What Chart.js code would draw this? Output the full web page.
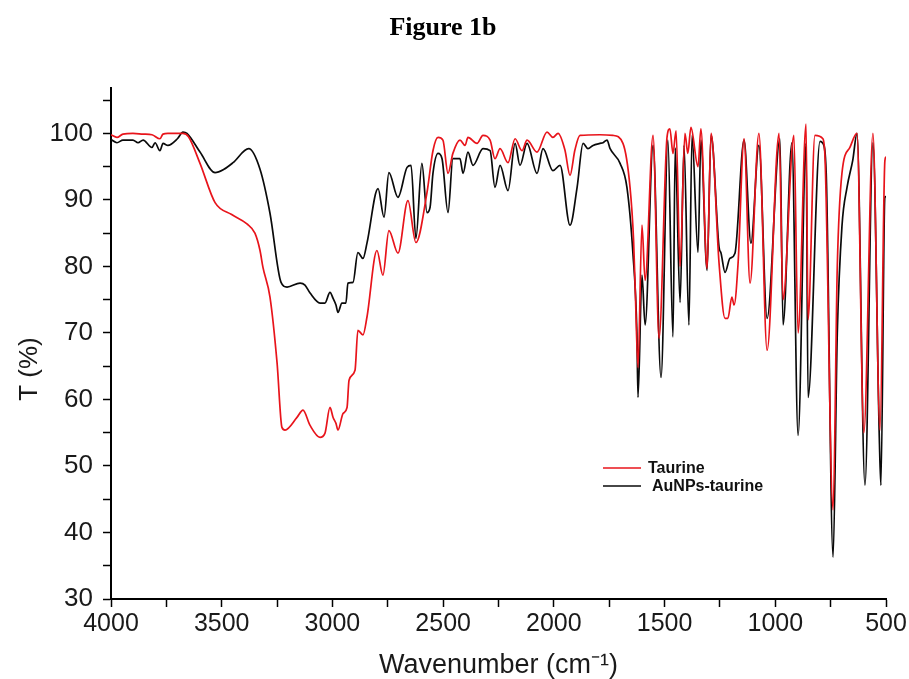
<!DOCTYPE html>
<html>
<head>
<meta charset="utf-8">
<script src="https://cdn.jsdelivr.net/npm/chart.js@4.4.1/dist/chart.umd.min.js"></script>
<style>
  html, body { margin: 0; padding: 0; background: #ffffff; }
  #wrap { width: 909px; height: 679px; position: relative; }
</style>
</head>
<body>
<div id="wrap"><canvas id="c"></canvas></div>
<script>
// ---- Data (wavenumber in cm-1, transmittance in %) ----
const seriesNames = ['Taurine', 'AuNPs-taurine'];
const yAxisTitle = 'T (%)';

const taurineWn = [4000, 3973, 3946, 3901, 3855, 3815, 3779, 3765, 3743, 3675, 3650, 3598, 3530, 3455, 3386, 3350, 3327, 3314, 3282, 3250, 3228, 3214, 3160, 3133, 3101, 3056, 3034, 3011, 2997, 2984, 2975, 2952, 2934, 2925, 2898, 2885, 2862, 2844, 2799, 2772, 2745, 2704, 2659, 2623, 2573, 2546, 2523, 2501, 2478, 2456, 2424, 2401, 2388, 2347, 2320, 2288, 2266, 2243, 2207, 2175, 2144, 2121, 2076, 2031, 2004, 1981, 1950, 1927, 1905, 1882, 1792, 1733, 1688, 1656, 1640, 1632, 1620, 1602, 1588, 1552, 1525, 1489, 1476, 1462, 1448, 1430, 1408, 1395, 1381, 1349, 1336, 1308, 1290, 1254, 1227, 1214, 1196, 1186, 1168, 1141, 1114, 1074, 1037, 983, 965, 916, 897, 861, 852, 821, 785, 775, 739, 720, 699, 663, 631, 600, 559, 527, 505, 500];
const taurineT = [99.8, 99.4, 99.9, 100.0, 99.9, 99.8, 99.2, 99.9, 100.0, 100.0, 99.5, 95.5, 89.6, 87.8, 86.4, 85.0, 82.4, 79.9, 75.4, 65.5, 55.8, 55.4, 57.3, 58.4, 56.1, 54.3, 54.9, 58.8, 57.3, 56.4, 55.4, 57.9, 58.8, 62.9, 64.4, 70.4, 69.7, 72.4, 82.4, 78.7, 85.4, 82.0, 89.9, 83.6, 91.1, 97.4, 99.4, 99.0, 94.0, 97.0, 99.0, 98.2, 99.4, 98.5, 99.7, 99.0, 96.2, 97.7, 95.6, 99.2, 97.4, 99.0, 97.2, 100.2, 99.4, 100.0, 97.5, 93.7, 97.5, 99.7, 99.8, 99.7, 98.5, 91.9, 84.0, 76.0, 64.8, 86.2, 77.9, 99.7, 69.2, 99.4, 100.7, 97.0, 100.4, 80.0, 100.0, 97.0, 100.9, 95.0, 100.7, 79.7, 100.0, 80.5, 72.2, 72.2, 75.4, 74.2, 80.5, 99.2, 77.5, 100.0, 67.4, 100.0, 75.0, 99.7, 70.0, 101.4, 72.0, 99.7, 99.2, 96.0, 43.4, 80.0, 94.0, 97.9, 100.0, 55.0, 100.0, 55.4, 95.9, 96.5];

const aunpsWn = [4000, 3973, 3946, 3901, 3878, 3855, 3815, 3801, 3779, 3765, 3743, 3700, 3675, 3657, 3598, 3530, 3490, 3449, 3378, 3327, 3282, 3232, 3205, 3146, 3124, 3101, 3056, 3034, 3011, 2997, 2984, 2975, 2957, 2939, 2930, 2907, 2885, 2862, 2844, 2794, 2767, 2745, 2704, 2663, 2645, 2623, 2596, 2573, 2559, 2546, 2523, 2505, 2478, 2456, 2424, 2410, 2388, 2365, 2320, 2288, 2266, 2243, 2207, 2175, 2153, 2121, 2076, 2049, 2004, 1972, 1927, 1895, 1868, 1846, 1823, 1792, 1778, 1760, 1746, 1701, 1670, 1643, 1625, 1620, 1602, 1588, 1552, 1516, 1485, 1462, 1452, 1430, 1412, 1390, 1376, 1349, 1336, 1308, 1290, 1254, 1245, 1227, 1205, 1182, 1141, 1110, 1074, 1037, 979, 965, 925, 897, 861, 852, 798, 785, 770, 739, 720, 699, 676, 650, 631, 595, 559, 530, 523, 505, 500];
const aunpsT = [99.1, 98.6, 99.0, 99.0, 98.6, 99.0, 97.9, 98.6, 97.4, 98.5, 98.2, 99.2, 100.2, 100.0, 97.2, 94.1, 94.6, 95.6, 97.7, 94.6, 88.0, 77.6, 76.9, 77.5, 77.2, 76.0, 74.5, 74.5, 76.1, 75.2, 74.2, 73.1, 74.5, 74.5, 77.5, 77.6, 82.1, 81.2, 83.5, 91.7, 87.4, 94.1, 90.4, 94.9, 95.2, 84.2, 95.5, 88.1, 88.9, 94.0, 97.0, 96.2, 88.1, 96.2, 96.2, 94.0, 97.2, 95.2, 97.7, 97.4, 91.9, 95.2, 91.4, 98.5, 95.2, 98.5, 94.0, 97.7, 94.4, 95.2, 86.2, 91.9, 98.5, 97.7, 98.2, 98.5, 98.6, 99.0, 97.7, 95.5, 91.9, 82.0, 70.0, 60.3, 78.7, 71.2, 98.2, 63.3, 99.0, 69.4, 97.8, 74.6, 98.2, 71.2, 99.7, 82.1, 99.0, 79.4, 99.8, 82.9, 82.0, 79.1, 81.2, 82.0, 99.0, 83.5, 98.2, 72.2, 99.2, 71.2, 98.6, 54.6, 98.5, 60.3, 98.8, 98.5, 94.0, 36.3, 70.0, 86.0, 91.9, 96.0, 100.0, 47.1, 98.6, 54.0, 47.1, 90.4, 90.5];

const xTickValues = [4000, 3750, 3500, 3250, 3000, 2750, 2500, 2250, 2000, 1750, 1500, 1250, 1000, 750, 500];
const yTickValues = [30, 35, 40, 45, 50, 55, 60, 65, 70, 75, 80, 85, 90, 95, 100, 105];

// ---- Build datasets ----
const toPoints = (xs, ys) => xs.map((x, i) => ({ x: x, y: ys[i] }));

const legendPlugin = {
  id: 'insideLegend',
  afterDatasetsDraw(chart) {
    const ctx = chart.ctx;
    const rows = [
      { y: 468, textX: 648 },
      { y: 486, textX: 652 }
    ];
    ctx.save();
    ctx.font = 'bold 16px "Liberation Sans", Arial, sans-serif';
    ctx.textBaseline = 'middle';
    ctx.textAlign = 'left';
    chart.data.datasets.forEach((ds, i) => {
      const r = rows[i];
      ctx.strokeStyle = ds.borderColor;
      ctx.lineWidth = 1.6;
      ctx.beginPath();
      ctx.moveTo(603, r.y);
      ctx.lineTo(641, r.y);
      ctx.stroke();
      ctx.fillStyle = '#111';
      ctx.fillText(ds.label, r.textX, r.y + 1);
    });
    ctx.restore();
  }
};

const yTitlePlugin = {
  id: 'yTitle',
  afterDraw(chart) {
    const ctx = chart.ctx;
    ctx.save();
    ctx.translate(30, 369);
    ctx.rotate(-Math.PI / 2);
    ctx.font = '26px "Liberation Sans", Arial, sans-serif';
    ctx.fillStyle = '#1a1a1a';
    ctx.textAlign = 'center';
    ctx.textBaseline = 'middle';
    ctx.fillText(yAxisTitle, 0, 0);
    ctx.restore();
  }
};

new Chart(document.getElementById('c'), {
  type: 'line',
  data: {
    datasets: [
      {
        label: seriesNames[0],
        data: toPoints(taurineWn, taurineT),
        borderColor: '#e8141b',
        borderWidth: 1.7,
        pointRadius: 0,
        cubicInterpolationMode: 'monotone',
        fill: false
      },
      {
        label: seriesNames[1],
        data: toPoints(aunpsWn, aunpsT),
        borderColor: '#0a0a0a',
        borderWidth: 1.7,
        pointRadius: 0,
        cubicInterpolationMode: 'monotone',
        fill: false
      }
    ]
  },
  options: {
    responsive: true,
    maintainAspectRatio: false,
    animation: false,
    layout: { padding: { left: 0, right: 23, top: 0, bottom: 0 } },
    plugins: {
      legend: { display: false },
      tooltip: { enabled: false },
      title: {
        display: true,
        text: 'Figure 1b',
        color: '#000',
        font: { family: '"Liberation Serif", "Times New Roman", serif', size: 26, weight: 'bold' },
        padding: { top: 13, bottom: 44 }
      }
    },
    scales: {
      x: {
        type: 'linear',
        reverse: true,
        min: 500,
        max: 4000,
        afterBuildTicks: (s) => { s.ticks = xTickValues.map(v => ({ value: v })); },
        afterFit: (s) => { s.height = 80; },
        ticks: {
          autoSkip: false,
          maxRotation: 0,
          padding: 2,
          color: '#1a1a1a',
          font: { family: '"Liberation Sans", Arial, sans-serif', size: 25 },
          callback: (v) => (v % 500 === 0 ? String(v) : '')
        },
        grid: { drawOnChartArea: false, drawTicks: true, tickLength: 8, tickColor: '#000', tickWidth: 1.5 },
        border: { display: true, color: '#000', width: 2 },
        title: {
          display: true,
          text: 'Wavenumber (cm\u207B\u00B9)',
          color: '#1a1a1a',
          font: { family: '"Liberation Sans", Arial, sans-serif', size: 27, lineHeight: 1.0 },
          padding: { top: 11, bottom: 0 }
        }
      },
      y: {
        type: 'linear',
        min: 30,
        max: 106.8,
        afterBuildTicks: (s) => { s.ticks = yTickValues.map(v => ({ value: v })); },
        afterFit: (s) => { s.width = 111; },
        ticks: {
          autoSkip: false,
          padding: 10,
          color: '#1a1a1a',
          font: { family: '"Liberation Sans", Arial, sans-serif', size: 26 },
          callback: (v) => (v % 10 === 0 ? String(v) : '')
        },
        grid: { drawOnChartArea: false, drawTicks: true, tickLength: 8, tickColor: '#000', tickWidth: 1.5 },
        border: { display: true, color: '#000', width: 2 },
        title: { display: false }
      }
    }
  },
  plugins: [legendPlugin, yTitlePlugin]
});
</script>
</body>
</html>
